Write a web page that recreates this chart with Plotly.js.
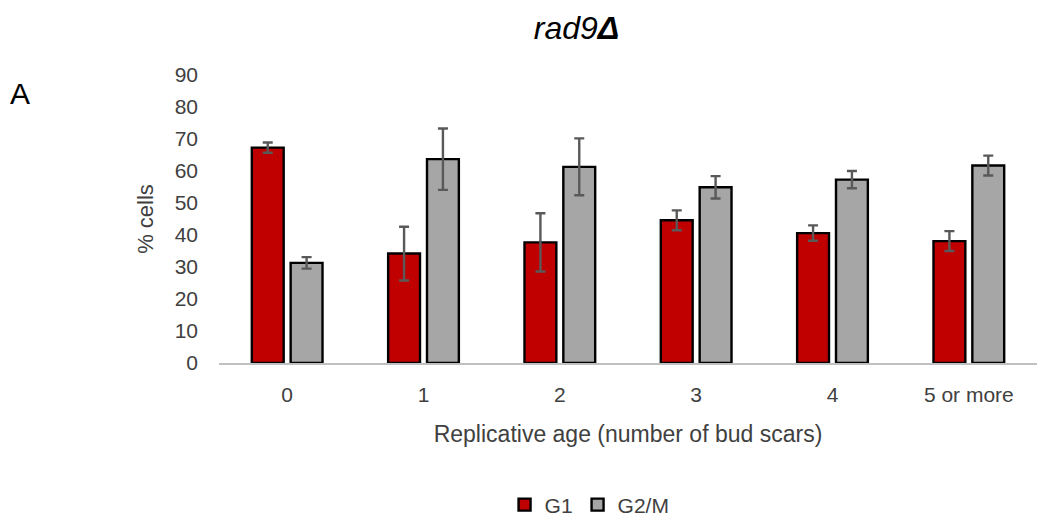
<!DOCTYPE html>
<html>
<head>
<meta charset="utf-8">
<script src="https://cdn.plot.ly/plotly-3.0.1.min.js"></script>
<style>html,body{margin:0;padding:0;background:#fff;}#chart{width:1037px;height:522px;}</style>
</head>
<body>
<div id="chart"></div>
<script>
const categories = ["0", "1", "2", "3", "4", "5 or more"];
const g1Values = [67.3, 34.2, 37.7, 44.6, 40.6, 38.1];
const g1Errors = [1.6, 8.4, 9.1, 3.1, 2.4, 3.1];
const g2mValues = [31.3, 63.7, 61.3, 54.9, 57.3, 61.7];
const g2mErrors = [1.8, 9.6, 8.9, 3.5, 2.7, 3.1];
const seriesNames = ["G1", "G2/M"];

const FONT = "Liberation Sans, Arial, sans-serif";
const errStyle = {type: "data", visible: true, color: "#595959", thickness: 2.4, width: 5};

const traces = [
  {type: "bar", name: seriesNames[0], x: categories, y: g1Values,
   error_y: Object.assign({array: g1Errors}, errStyle),
   marker: {color: "#c00000", line: {color: "#000", width: 2.4}}},
  {type: "bar", name: seriesNames[1], x: categories, y: g2mValues,
   error_y: Object.assign({array: g2mErrors}, errStyle),
   marker: {color: "#a6a6a6", line: {color: "#000", width: 2.4}}}
];

const layout = {
  width: 1037, height: 522,
  margin: {l: 219, r: 0, t: 75, b: 159, autoexpand: false},
  paper_bgcolor: "#fff", plot_bgcolor: "#fff",
  font: {family: FONT, color: "#404040", size: 20},
  barmode: "group", bargap: 0.43, bargroupgap: 0.18,
  title: {text: "<i>rad9<b>Δ</b></i>", x: 0.556, xanchor: "center", xref: "container",
          y: 0.947, yanchor: "middle", yref: "container",
          font: {family: FONT, size: 32, color: "#000"}},
  xaxis: {type: "category", showgrid: false, zeroline: false,
          showline: true, linecolor: "#c0c0c0", linewidth: 2,
          ticks: "", ticklabelstandoff: 12,
          tickfont: {size: 21, color: "#404040"},
          title: {text: "Replicative age (number of bud scars)", standoff: 21,
                  font: {size: 23, color: "#404040"}}},
  yaxis: {range: [0, 90], dtick: 10, showgrid: false, zeroline: false,
          showline: false, ticks: "", ticklabelstandoff: 20,
          tickfont: {size: 21, color: "#404040"},
          title: {text: "% cells", standoff: 14, font: {size: 22, color: "#404040"}}},
  showlegend: true,
  legend: {orientation: "h", x: 0.453, xanchor: "center", y: -0.493, yanchor: "middle",
           font: {size: 21, color: "#404040"}, itemwidth: 30, traceorder: "normal"},
  annotations: [{text: "A", xref: "paper", yref: "paper", x: -0.258, y: 0.935,
                 xanchor: "left", yanchor: "middle", showarrow: false,
                 font: {family: FONT, size: 30, color: "#000"}}]
};

Plotly.newPlot("chart", traces, layout, {displayModeBar: false, staticPlot: true});
</script>
</body>
</html>
